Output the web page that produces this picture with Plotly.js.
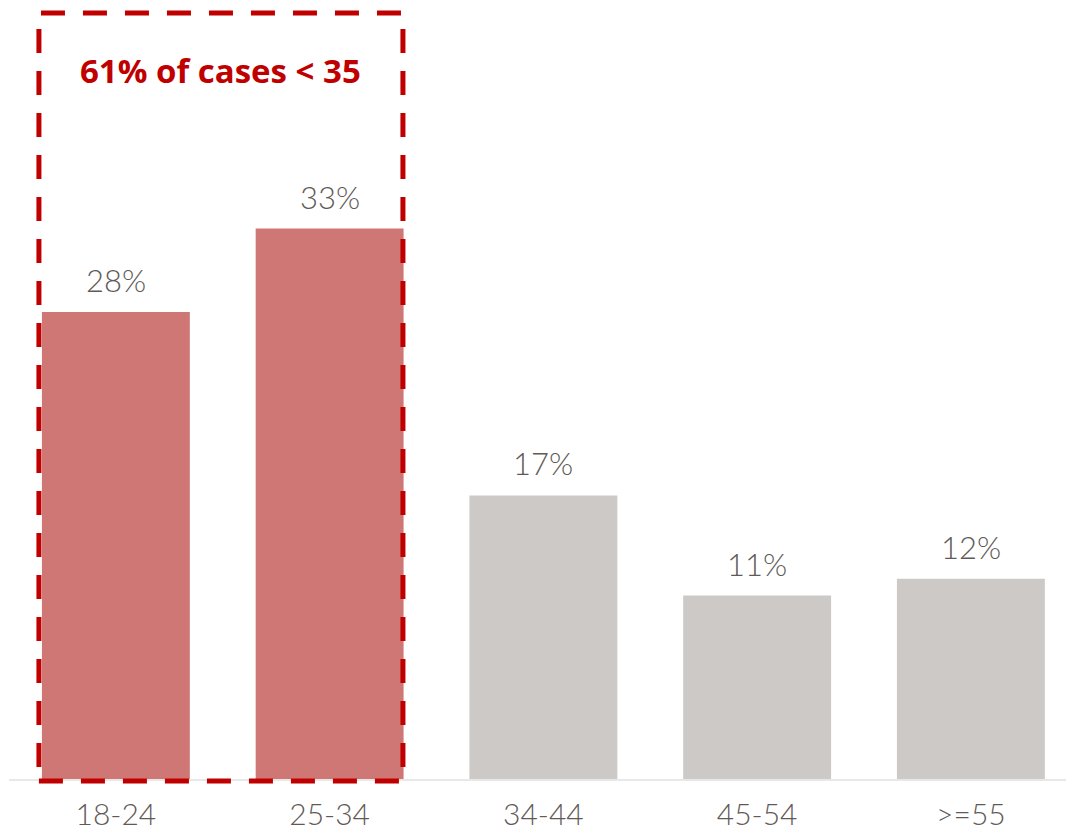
<!DOCTYPE html>
<html>
<head>
<meta charset="utf-8">
<script src="https://cdn.plot.ly/plotly-3.0.1.min.js"></script>
<style>html,body{margin:0;padding:0;background:#fff;}#chart{width:1066px;height:836px;}</style>
</head>
<body>
<div id="chart"></div>
<script>
const categories = ["18-24", "25-34", "34-44", "45-54", ">=55"];
const shares = [28, 33, 17, 11, 12];
const highlighted = [true, true, false, false, false];
const calloutText = "61% of cases < 35";

const colors = highlighted.map(h => h ? "#cf7774" : "#cdc9c6");
const xs = categories.map((c, i) => i);

const trace = {
  type: "bar",
  x: xs,
  y: shares,
  marker: {color: colors, line: {width: 0}},
  hoverinfo: "skip",
  showlegend: false
};

const labelFont = {family: "Lato, 'Open Sans', sans-serif", size: 31, color: "#5f5a57", weight: 300};
const tickFont = {family: "Lato, 'Open Sans', sans-serif", size: 30, color: "#5f5a57", weight: 300};

const annotations = shares.map((v, i) => ({
  x: i, y: v, xref: "x", yref: "y",
  text: v + "%", showarrow: false,
  yanchor: "bottom", yshift: 11,
  font: labelFont
}));

const boxX0 = -0.36, boxX1 = 1.343;
annotations.push({
  x: (boxX0 + boxX1) / 2, y: 0.909, xref: "x", yref: "paper",
  text: "<b>" + calloutText.replace("<", "&lt;") + "</b>", showarrow: false,
  xanchor: "center", yanchor: "middle",
  font: {family: "'Open Sans', Lato, sans-serif", size: 33, color: "#c00000"}
});

const layout = {
  width: 1066, height: 836,
  margin: {l: 9, r: 0, t: 0, b: 57},
  paper_bgcolor: "#ffffff", plot_bgcolor: "#ffffff",
  bargap: 0.308,
  xaxis: {
    range: [-0.5, 4.445],
    tickmode: "array", tickvals: xs, ticktext: categories,
    showgrid: false, zeroline: false,
    showline: true, linecolor: "#e8e8e8", linewidth: 2,
    ticks: "", ticklabelstandoff: 8,
    tickfont: tickFont,
    fixedrange: true
  },
  yaxis: {
    range: [0, 46.7],
    visible: false, showgrid: false, zeroline: false,
    fixedrange: true
  },
  shapes: [{
    type: "rect", xref: "x", yref: "paper",
    x0: boxX0, x1: boxX1, y0: -0.0026, y1: 0.9833,
    line: {color: "#c00000", width: 5, dash: "24px,18px"},
    fillcolor: "rgba(0,0,0,0)", layer: "above"
  }],
  annotations: annotations
};

Plotly.newPlot("chart", [trace], layout, {displayModeBar: false, staticPlot: true});
</script>
</body>
</html>
